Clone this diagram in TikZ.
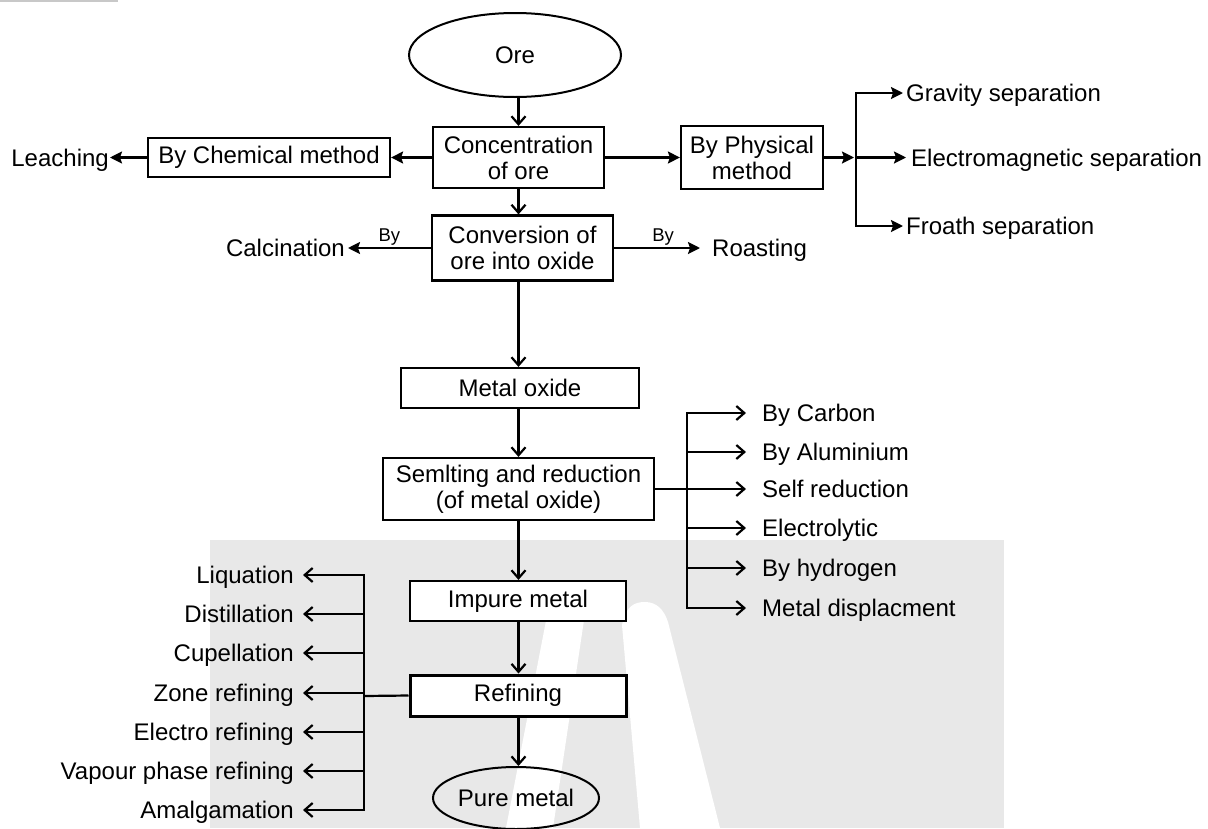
\documentclass[tikz,border=0pt]{standalone}
\usepackage{fontspec}
\setmainfont{Liberation Sans}
\usetikzlibrary{arrows.meta,calc,shapes.geometric}
\definecolor{wm}{HTML}{E8E8E8}
\definecolor{topline}{HTML}{C8C8C8}
\begin{document}
\begin{tikzpicture}[x=1pt,y=-1pt,
  every node/.style={font=\fontsize{24}{26}\selectfont},
  box/.style={draw, line width=2.2pt, fill=white, inner sep=0pt, align=center},
  oval/.style={draw, ellipse, line width=2pt, inner sep=0pt},
  lbl/.style={inner sep=0pt, text height=17pt, text depth=0pt},
  bylbl/.style={font=\fontsize{18.5}{20}\selectfont, inner sep=1.5pt, above},
  fa/.style={line width=2.2pt, -{Stealth[length=12pt,width=12pt,inset=2pt]}},
  oa/.style={line width=2.2pt, -{Straight Barb[length=8pt,width=14pt,line width=2.2pt]}},
  ln/.style={line width=2.2pt}]
\useasboundingbox (0,0) rectangle (1208,828);
% background and watermark
\fill[white] (0,0) rectangle (1208,828);
\fill[topline] (0,0) rectangle (118,1.5);
\fill[wm] (210,540) rectangle (1004,828);
\fill[white] (550,600) -- (587,600) -- (553,828) -- (506,828) -- cycle;
\fill[white] (622,625) .. controls (626,606) and (634,602) .. (645,602)
  .. controls (657,602) and (664,610) .. (668,622) -- (720,828) -- (640,828) -- cycle;

% main column
\node[oval, minimum width=212pt, minimum height=84pt] (ore) at (515,55) {Ore};
\node[box, minimum width=171pt, minimum height=61pt] (conc) at (518.5,157.5) {Concentration\\of ore};
\node[box, minimum width=181pt, minimum height=65pt] (conv) at (522.5,248) {Conversion of\\ore into oxide};
\node[box, minimum width=238pt, minimum height=40pt] (mox) at (520,388) {Metal oxide};
\node[box, minimum width=271pt, minimum height=62pt] (smelt) at (518.5,489) {Semlting and reduction\\(of metal oxide)};
\node[box, minimum width=216pt, minimum height=40pt] (imp) at (518,601) {Impure metal};
\node[box, line width=3pt, minimum width=216pt, minimum height=41pt] (ref) at (518,695.5) {Refining};
\node[oval, minimum width=166pt, minimum height=62pt] (pure) at (516,798) {Pure metal};

% side boxes and labels
\node[box, minimum width=242pt, minimum height=39pt] (chem) at (269,157.5) {By Chemical method};
\node[lbl, anchor=east] (leach) at (109,157.5) {Leaching};
\node[box, minimum width=142pt, minimum height=63pt] (phys) at (752,157.5) {By Physical\\method};
\node[lbl, anchor=west] (grav) at (906,93) {Gravity separation};
\node[lbl, anchor=west] (emag) at (911,157.5) {Electromagnetic separation};
\node[lbl, anchor=west] (froth) at (906,226) {Froath separation};
\node[lbl, anchor=east] (calc) at (345,248) {Calcination};
\node[lbl, anchor=west] (roast) at (712,248) {Roasting};

% reduction methods
\node[lbl, anchor=west] (carb) at (762,413) {By Carbon};
\node[lbl, anchor=west] (alum) at (762,452) {By Aluminium};
\node[lbl, anchor=west] (self) at (762,489) {Self reduction};
\node[lbl, anchor=west] (elec) at (762,528) {Electrolytic};
\node[lbl, anchor=west] (hyd) at (762,568) {By hydrogen};
\node[lbl, anchor=west] (disp) at (762,608) {Metal displacment};

% refining methods
\node[lbl, anchor=east] (liq) at (294,575) {Liquation};
\node[lbl, anchor=east] (dist) at (294,614) {Distillation};
\node[lbl, anchor=east] (cup) at (294,653) {Cupellation};
\node[lbl, anchor=east] (zone) at (294,693) {Zone refining};
\node[lbl, anchor=east] (elref) at (294,732) {Electro refining};
\node[lbl, anchor=east] (vap) at (294,771) {Vapour phase refining};
\node[lbl, anchor=east] (amal) at (294,810) {Amalgamation};

% main column arrows
\draw[oa] (conc.north |- ore.south) -- (conc.north);
\draw[oa] (conc.south) -- (conc.south |- conv.north);
\draw[oa] (conc.south |- conv.south) -- (conc.south |- mox.north);
\draw[oa] (conc.south |- mox.south) -- (conc.south |- smelt.north);
\draw[oa] (conc.south |- smelt.south) -- (conc.south |- imp.north);
\draw[oa] (conc.south |- imp.south) -- (conc.south |- ref.north);
\draw[oa] (conc.south |- ref.south) -- (conc.south |- pure.north);

% concentration branches
\draw[fa] (conc.west) -- (chem.east);
\draw[fa] (chem.west) -- ([xshift=1pt]leach.east);
\draw[fa] (conc.east) -- (phys.west);
\coordinate (pb) at (856,157.5);
\draw[fa, shorten >=2pt] (phys.east) -- (pb);
\draw[fa] (pb) |- ([xshift=-3pt]grav.west);
\draw[fa] (pb) |- ([xshift=-3pt]froth.west);
\draw[fa] (pb) -- ([xshift=-5pt]emag.west);

% conversion branches
\draw[fa] (conv.west) -- node[bylbl] {By} ([xshift=3pt]calc.east);
\draw[fa] (conv.east) -- node[bylbl, pos=0.57] {By} ([xshift=-12pt]roast.west);

% reduction bus
\coordinate (sb) at (687,489);
\draw[ln] (smelt.east) -- (sb);
\draw[oa] (sb) |- ([xshift=-16pt]carb.west);
\draw[oa] (sb) |- ([xshift=-16pt]disp.west);
\draw[oa] (sb |- alum.west) -- ([xshift=-16pt]alum.west);
\draw[oa] (sb) -- ([xshift=-16pt]self.west);
\draw[oa] (sb |- elec.west) -- ([xshift=-16pt]elec.west);
\draw[oa] (sb |- hyd.west) -- ([xshift=-16pt]hyd.west);

% refining bus
\coordinate (rb) at (364,696);
\draw[ln] (ref.west) -- (rb);
\draw[oa] (rb) |- ([xshift=9pt]liq.east);
\draw[oa] (rb) |- ([xshift=9pt]amal.east);
\draw[oa] (rb |- dist.east) -- ([xshift=9pt]dist.east);
\draw[oa] (rb |- cup.east) -- ([xshift=9pt]cup.east);
\draw[oa] (rb |- zone.east) -- ([xshift=9pt]zone.east);
\draw[oa] (rb |- elref.east) -- ([xshift=9pt]elref.east);
\draw[oa] (rb |- vap.east) -- ([xshift=9pt]vap.east);
\end{tikzpicture}
\end{document}
